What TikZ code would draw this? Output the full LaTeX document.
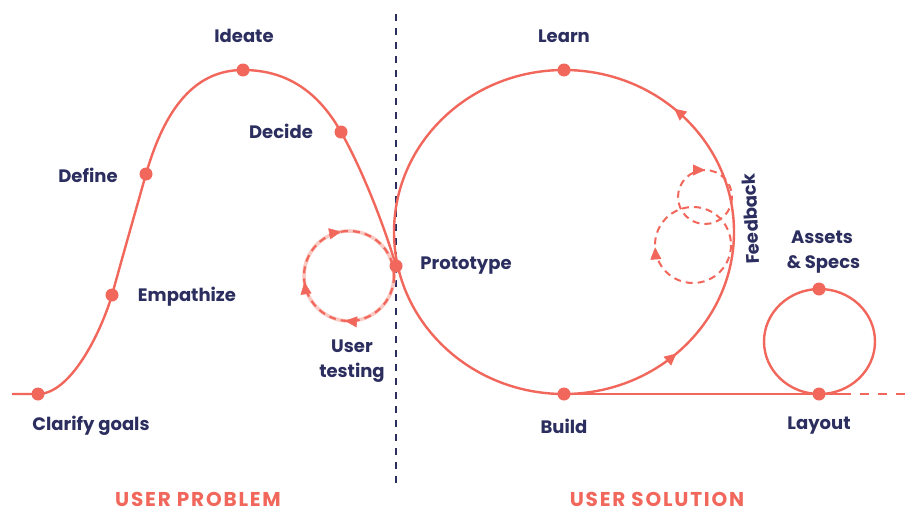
\documentclass[tikz,border=0pt]{standalone}
\usepackage{fontspec}
\setmainfont{Poppins}
\newfontfamily\titlefont{Poppins}[LetterSpace=9]
\usetikzlibrary{arrows.meta,decorations.markings}
\definecolor{cred}{HTML}{F2675B}
\definecolor{cnavy}{HTML}{2B2E5E}
\definecolor{cpink}{HTML}{F9C9C2}
\begin{document}
\begin{tikzpicture}[x=1pt,y=-1pt,
  >={Triangle[length=12pt,width=11pt]},
  mainline/.style={draw=cred,line width=2.4pt},
  dotnode/.style={circle,fill=cred,inner sep=0pt,minimum size=13pt},
  lbl/.style={text=cnavy,font=\fontsize{18}{25}\selectfont\bfseries,align=center,inner sep=0pt},
  title/.style={text=cred,font=\titlefont\fontsize{20}{23}\selectfont\bfseries,inner sep=0pt},
  fbdash/.style={draw=cred,line width=2pt,dash pattern=on 7pt off 5pt}
]
\useasboundingbox[fill=white] (0,0) rectangle (909,511);

% key points
\coordinate (start) at (12,394);
\coordinate (clarify) at (38,394);
\coordinate (empathize) at (112,295);
\coordinate (define) at (146,174);
\coordinate (ideate) at (243,70);
\coordinate (decide) at (341,132);
\coordinate (prototype) at (396,266);
\coordinate (learn) at (564,70);
\coordinate (build) at (564,394);
\coordinate (assets) at (819,289);
\coordinate (layout) at (819,394);
\coordinate (solidend) at (842,394);
\coordinate (lineend) at (909,394);
\coordinate (divtop) at (396,14);
\coordinate (divbot) at (396,486);

% divider
\draw[cnavy,line width=2pt,dash pattern=on 7pt off 7pt] (divtop) -- (divbot);

% user-testing loop
\draw[cpink,line width=3.6pt] (349,276) circle[radius=45];
\draw[cred,line width=2.2pt,dash pattern=on 7pt off 5pt] (349,276) circle[radius=45];
\path[decoration={markings,
   mark=at position 0.264 with {\arrow[cred]{>}},
   mark=at position 0.478 with {\arrow[cred]{>}},
   mark=at position 0.722 with {\arrow[cred]{>}}},decorate]
  (394,276) arc[start angle=0,end angle=360,radius=45];

% feedback loops
\draw[fbdash] (705,197) circle[radius=27];
\draw[fbdash] (693,245) circle[radius=38];
\path[decoration={markings,
   mark=at position 0.75 with {\arrow[cred]{>}}},decorate]
  (732,197) arc[start angle=0,end angle=360,radius=27];
\path[decoration={markings,
   mark=at position 0.49 with {\arrow[cred]{>}}},decorate]
  (731,245) arc[start angle=0,end angle=360,radius=38];

% S curve (user problem)
\draw[mainline] (start) -- (clarify)
  .. controls (70,394) and (100,335) .. (empathize)
  .. controls (123,255) and (135,213) .. (define)
  .. controls (165,108) and (195,70) .. (ideate)
  .. controls (290,70) and (320,95) .. (decide)
  .. controls (362,169) and (384,225) .. (prototype);

% big loop (user solution)
\draw[mainline,postaction={decorate},decoration={markings,
   mark=at position 0.117 with {\arrow[cred]{>}},
   mark=at position 0.386 with {\arrow[cred]{>}}}]
  (build) arc[start angle=90,end angle=-270,x radius=170,y radius=162];

% baseline and small loop
\draw[mainline] (build) -- (solidend);
\draw[mainline,dash pattern=on 9pt off 9pt] (solidend) -- (lineend);
\draw[mainline] (819.5,341.5) ellipse[x radius=55.5,y radius=52.5];

% dots
\foreach \p in {clarify,empathize,define,ideate,decide,prototype,learn,build,assets,layout}
  \node[dotnode] (\p-dot) at (\p) {};

% labels
\node[lbl] (ideate-t) at (244,36) {Ideate};
\node[lbl] (define-t) at (88,175) {Define};
\node[lbl] (decide-t) at (281,131) {Decide};
\node[lbl] (empathize-t) at (187,297) {Empathize};
\node[lbl] (clarify-t) at (91,426) {Clarify goals};
\node[lbl] (prototype-t) at (466,266) {Prototype};
\node[lbl] (testing-t) at (352,361) {User\\testing};
\node[lbl] (learn-t) at (564,36) {Learn};
\node[lbl] (build-t) at (564,426) {Build};
\node[lbl] (layout-t) at (819,426) {Layout};
\node[lbl] (assets-t) at (822,252) {Assets\\\,\& Specs};
\node[lbl,rotate=93] (feedback-t) at (751,219) {Feedback};
\node[title] (problem-t) at (198,499) {USER PROBLEM};
\node[title] (solution-t) at (657,499) {USER SOLUTION};
\end{tikzpicture}
\end{document}
